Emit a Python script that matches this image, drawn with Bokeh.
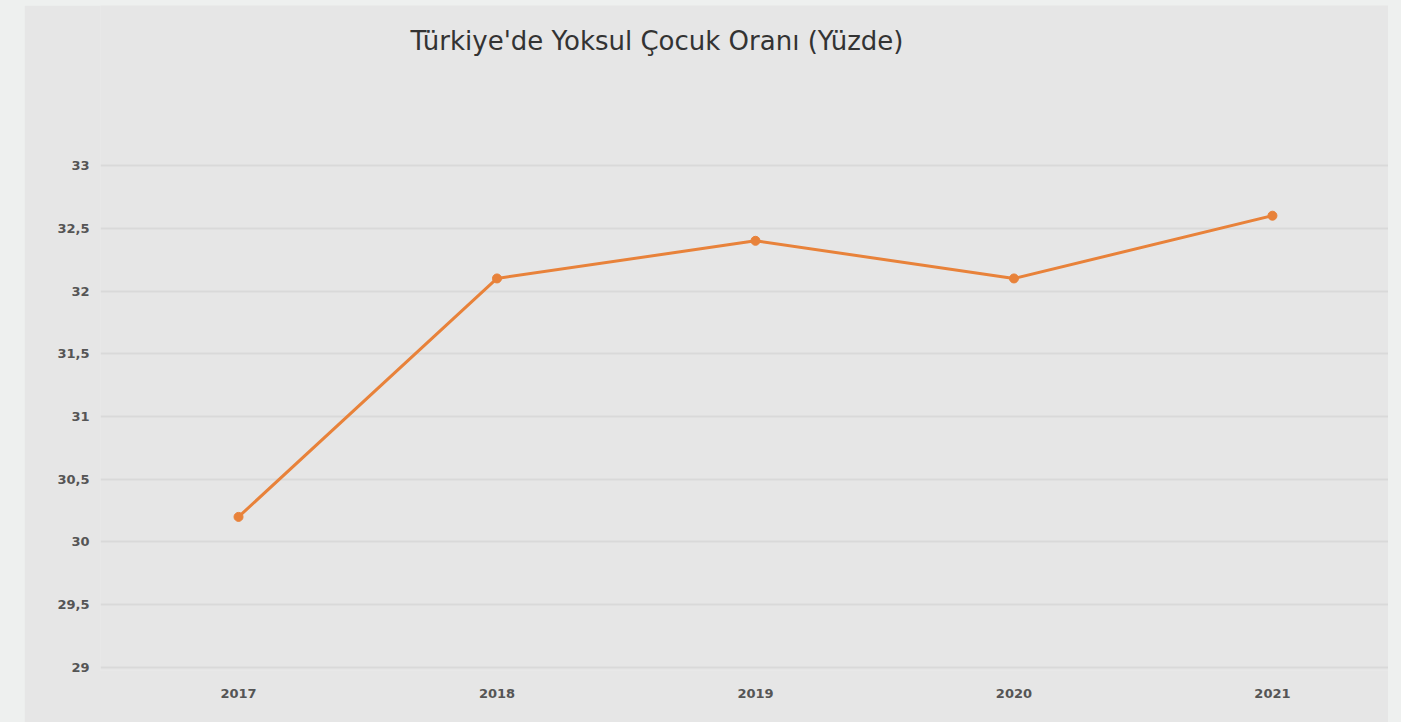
from bokeh.plotting import figure
from bokeh.models import FixedTicker, Label, Range1d
from bokeh.layouts import column
from bokeh.embed import file_html
from bokeh.resources import INLINE

years = [2017, 2018, 2019, 2020, 2021]
rates = [30.2, 32.1, 32.4, 32.1, 32.6]
y_ticks = [29, 29.5, 30, 30.5, 31, 31.5, 32, 32.5, 33]
y_tick_labels = ["29", "29,5", "30", "30,5", "31", "31,5", "32", "32,5", "33"]
title_text = "Türkiye'de Yoksul Çocuk Oranı (Yüzde)"

PANEL = "#e6e6e6"
OUTER = "#eef0ef"
ORANGE = "#e8823a"

p = figure(width=1364, height=717, output_backend="svg", toolbar_location=None,
           x_range=Range1d(2016.466, 2021.449), y_range=Range1d(28.976, 34.275),
           margin=(5, 13, 0, 24))
p.background_fill_color = PANEL
p.border_fill_color = PANEL
p.outline_line_color = None
p.min_border_left = 76
p.min_border_right = 0
p.min_border_top = 0
p.min_border_bottom = 52

p.xaxis.ticker = FixedTicker(ticks=years)
p.yaxis.ticker = FixedTicker(ticks=y_ticks)
p.yaxis.major_label_overrides = {t: l for t, l in zip(y_ticks, y_tick_labels)}
for ax in (p.xaxis[0], p.yaxis[0]):
    ax.axis_line_color = None
    ax.major_tick_line_color = None
    ax.minor_tick_line_color = None
    ax.major_label_text_font = "DejaVu Sans"
    ax.major_label_text_font_size = "13px"
    ax.major_label_text_font_style = "bold"
    ax.major_label_text_color = "#555555"
p.yaxis.major_label_standoff = 5
p.xaxis.major_label_standoff = 12

p.xgrid.grid_line_color = None
p.ygrid.grid_line_color = "#d9d9d9"
p.ygrid.grid_line_width = 2

p.line(years, rates, line_color=ORANGE, line_width=3)
p.scatter(years, rates, size=9, fill_color=ORANGE, line_color=ORANGE)

p.add_layout(Label(x=310, x_units="screen", y=33.996, text=title_text,
                   text_font="DejaVu Sans", text_font_size="26px",
                   text_color="#333333", text_baseline="middle"))

layout = column(p, styles={"background-color": OUTER})
open("out.html", "w").write(file_html(layout, INLINE))
